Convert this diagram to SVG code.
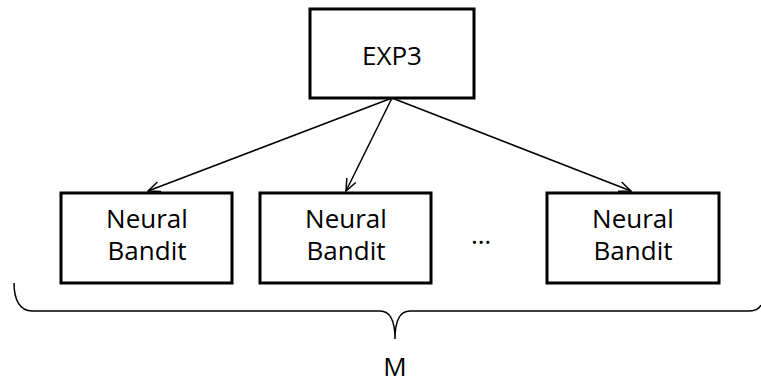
<svg xmlns="http://www.w3.org/2000/svg" width="761" height="381" viewBox="0 0 761 381">
<defs>
<style>
.box{fill:#fff;stroke:#000;stroke-width:3}
.t{font-family:"Open Sans","Liberation Sans",sans-serif;font-size:26px;fill:#000;text-anchor:middle}
.c{stroke:#000;stroke-width:1.5;fill:none}
</style>
<marker id="arr" viewBox="0 0 14 12" refX="13" refY="6" markerWidth="14" markerHeight="12" markerUnits="userSpaceOnUse" orient="auto">
<path d="M1,1 L13,6 L1,11" fill="none" stroke="#000" stroke-width="1.5"/>
</marker>
</defs>
<rect width="761" height="381" fill="#fff"/>
<g id="connectors">
<line class="c" x1="392" y1="98" x2="148" y2="191" marker-end="url(#arr)"/>
<line class="c" x1="392" y1="98" x2="346" y2="191" marker-end="url(#arr)"/>
<line class="c" x1="392" y1="98" x2="631" y2="191" marker-end="url(#arr)"/>
</g>
<g id="exp3">
<rect class="box" x="310" y="9" width="164" height="89"/>
<text class="t" x="392" y="65">EXP3</text>
</g>
<g id="nb1">
<rect class="box" x="61" y="193" width="171" height="90"/>
<text class="t" x="147" y="228">Neural</text>
<text class="t" x="147" y="260">Bandit</text>
</g>
<g id="nb2">
<rect class="box" x="260" y="193" width="171" height="90"/>
<text class="t" x="346" y="228">Neural</text>
<text class="t" x="346" y="260">Bandit</text>
</g>
<g id="nb3">
<rect class="box" x="547" y="193" width="172" height="90"/>
<text class="t" x="633" y="228">Neural</text>
<text class="t" x="633" y="260">Bandit</text>
</g>
<text class="t" x="481" y="244">…</text>
<g id="brace">
<path class="c" d="M14,283 C14,300 20,311 32,311 L380,311 C388,311 395,318 395,339 C395,318 402,311 410,311 L748,311 C755,311 759,309 761,305"/>
</g>
<text class="t" x="395" y="376">M</text>
</svg>
